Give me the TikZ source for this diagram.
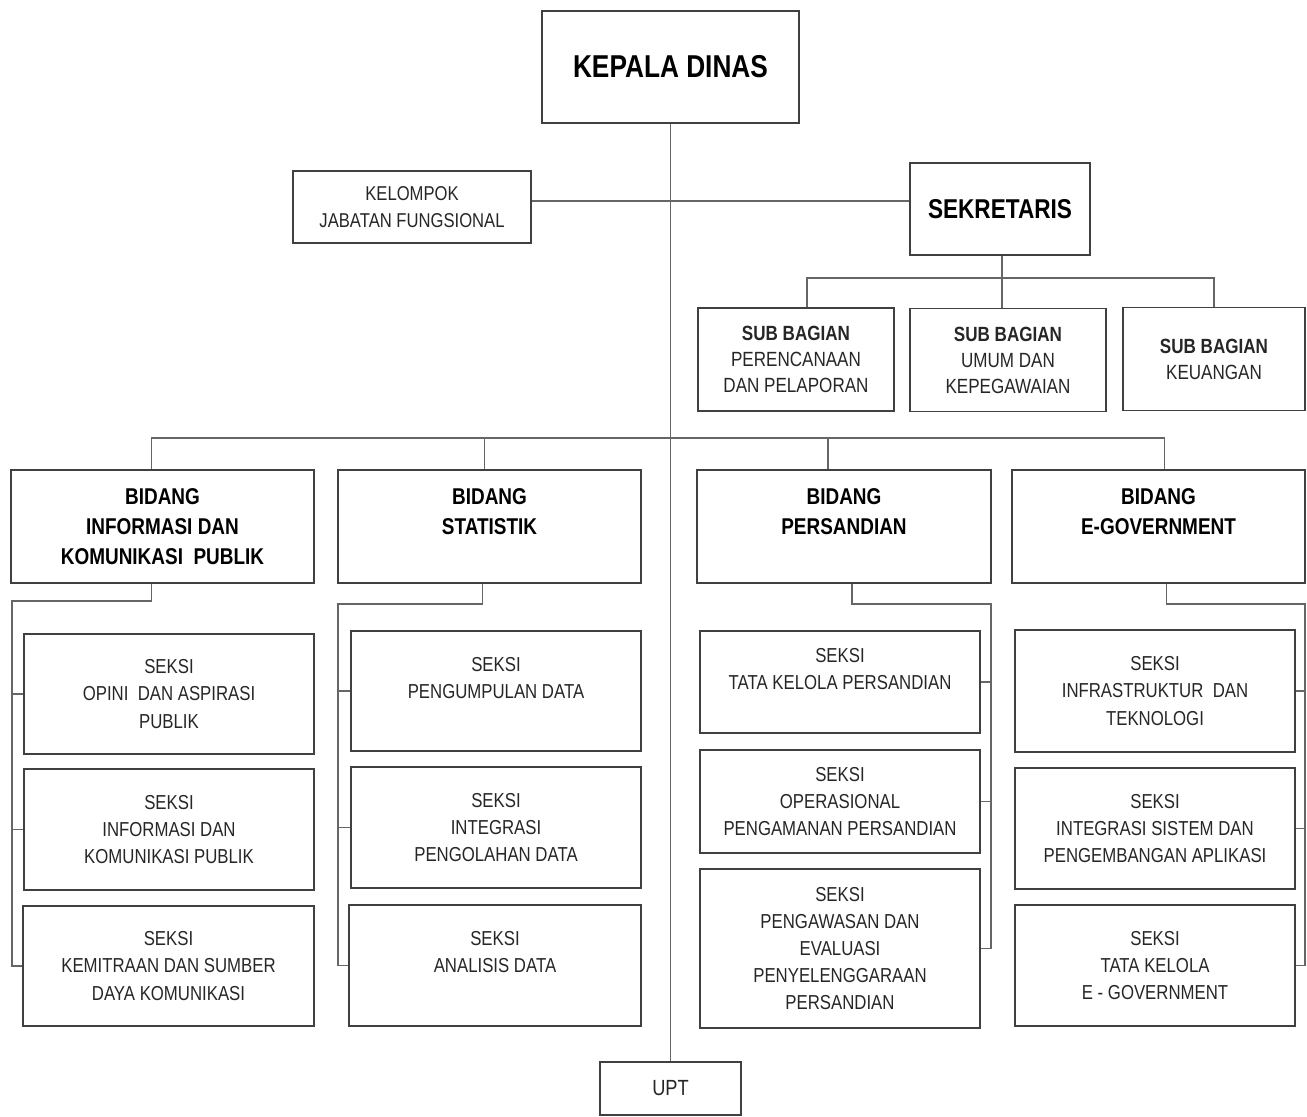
\documentclass[tikz,border=0pt]{standalone}
\usepackage{fontspec}
\setmainfont{Liberation Sans}[FakeStretch=0.83]
\usepackage{tikz}
\usetikzlibrary{positioning, calc}

\begin{document}
\begin{tikzpicture}[
    x=0.02cm, y=-0.02cm,
    unit/.style={
        draw=black!75, line width=0.9pt, inner sep=0pt, align=center,
        text=black!85, font=\fontsize{11.5}{15.4}\selectfont
    },
    head/.style={
        unit, text=black, font=\fontsize{#1}{#1}\selectfont\bfseries
    },
    bidang/.style={
        unit, text=black, minimum height=2.26cm,
        font=\fontsize{13}{17}\selectfont\bfseries
    },
    subbag/.style={
        unit, minimum height=2.06cm, font=\fontsize{11.7}{14.8}\selectfont
    },
    seksi/.style={unit, minimum width=#1},
    link/.style={draw=black!60, line width=0.8pt}
]

\useasboundingbox (0,0) rectangle (1307,1116);

% Top level
\node[head=18, minimum width=5.14cm, minimum height=2.24cm] (kadis) at (670.5,67) {KEPALA DINAS};
\node[unit, minimum width=4.76cm, minimum height=1.44cm,
      font=\fontsize{11.4}{15.4}\selectfont] (jf) at (412,207) {KELOMPOK\\JABATAN FUNGSIONAL};
\node[head=15.5, minimum width=3.6cm, minimum height=1.84cm] (sek) at (1000,209) {\raisebox{-0.25em}{SEKRETARIS}};
\node[unit, minimum width=2.82cm, minimum height=1.06cm,
      font=\fontsize{12.5}{15}\selectfont] (upt) at (670.5,1088.5) {UPT};

% Sub bagian
\node[subbag, minimum width=3.92cm] (sb1) at (796,359.5) {\textbf{SUB BAGIAN}\\PERENCANAAN\\DAN PELAPORAN};
\node[subbag, minimum width=3.92cm] (sb2) at (1008,360) {\textbf{SUB BAGIAN}\\UMUM DAN\\KEPEGAWAIAN};
\node[subbag, minimum width=3.64cm] (sb3) at (1214,359) {\textbf{SUB BAGIAN}\\KEUANGAN};

% Bidang
\node[bidang, minimum width=6.06cm] (b1) at (162.5,526.5) {BIDANG\\INFORMASI DAN\\KOMUNIKASI~ PUBLIK};
\node[bidang, minimum width=6.06cm] (b2) at (489.5,526.5) {BIDANG\\STATISTIK\\~};
\node[bidang, minimum width=5.88cm] (b3) at (844,526.5) {BIDANG\\PERSANDIAN\\~};
\node[bidang, minimum width=5.86cm] (b4) at (1158.5,526.5) {BIDANG\\E-GOVERNMENT\\~};

% Seksi bidang informasi
\node[seksi=5.8cm, minimum height=2.4cm] (s11) at (169,694) {SEKSI\\OPINI~ DAN ASPIRASI\\PUBLIK};
\node[seksi=5.8cm, minimum height=2.42cm] (s12) at (169,829.5) {SEKSI\\INFORMASI DAN\\KOMUNIKASI PUBLIK};
\node[seksi=5.82cm, minimum height=2.4cm] (s13) at (168.5,966) {SEKSI\\KEMITRAAN DAN SUMBER\\DAYA KOMUNIKASI};

% Seksi bidang statistik
\node[seksi=5.8cm, minimum height=2.4cm] (s21) at (496,691) {SEKSI\\PENGUMPULAN DATA\\~};
\node[seksi=5.8cm, minimum height=2.42cm] (s22) at (496,827.5) {SEKSI\\INTEGRASI\\PENGOLAHAN DATA};
\node[seksi=5.84cm, minimum height=2.42cm] (s23) at (495,965.5) {SEKSI\\ANALISIS DATA\\~};

% Seksi bidang persandian
\node[seksi=5.6cm, minimum height=2.04cm] (s31) at (840,682) {SEKSI\\TATA KELOLA PERSANDIAN\\~};
\node[seksi=5.6cm, minimum height=2.06cm] (s32) at (840,801.5) {SEKSI\\OPERASIONAL\\PENGAMANAN PERSANDIAN};
\node[seksi=5.6cm, minimum height=3.18cm] (s33) at (840,948.5) {SEKSI\\PENGAWASAN DAN\\EVALUASI\\PENYELENGGARAAN\\PERSANDIAN};

% Seksi bidang e-government
\node[seksi=5.6cm, minimum height=2.44cm] (s41) at (1155,691) {SEKSI\\INFRASTRUKTUR~ DAN\\TEKNOLOGI};
\node[seksi=5.6cm, minimum height=2.42cm] (s42) at (1155,828.5) {SEKSI\\INTEGRASI SISTEM DAN\\PENGEMBANGAN APLIKASI};
\node[seksi=5.6cm, minimum height=2.42cm] (s43) at (1155,965.5) {SEKSI\\TATA KELOLA\\E - GOVERNMENT};

% Junctions
\coordinate (sbus) at (1002,278);
\coordinate (bbus) at (670.5,438);
\coordinate (c1) at (12,601);
\coordinate (c2) at (338,604);
\coordinate (c3) at (991,604);
\coordinate (c4) at (1305,604);

% Main lines
\draw[link] (kadis) -- (upt);
\draw[link] ($(jf.east)+(0,-6)$) -- ($(jf.east -| sek.west)+(0,-6)$);
\draw[link] (sek.south -| sbus) -- (sbus);
\draw[link] ($(sb1.north)+(11,0)$) |- (sbus) -| (sb3.north);
\draw[link] (sb2.north -| sbus) -- (sbus);
\draw[link] ($(b1.north)+(-11,0)$) |- (bbus) -| ($(b4.north)+(6,0)$);
\draw[link] ($(b2.north)+(-5,0)$) -- ($(b2.north |- bbus)+(-5,0)$);
\draw[link] ($(b3.north)+(-16,0)$) -- ($(b3.north |- bbus)+(-16,0)$);

% Seksi lines
\draw[link] ($(b1.south)+(-11,0)$) |- (c1) |- (s13.west);
\draw[link] ($(b2.south)+(-7,0)$) |- (c2) |- (s23.west);
\draw[link] ($(b3.south)+(8,0)$) |- (c3) |- (s33.east);
\draw[link] ($(b4.south)+(8,0)$) |- (c4) |- (s43.east);
\foreach \s/\c/\side in {s11/c1/west, s12/c1/west, s21/c2/west, s22/c2/west,
                         s31/c3/east, s32/c3/east, s41/c4/east, s42/c4/east}
    \draw[link] (\s.\side) -- (\s.\side -| \c);

\end{tikzpicture}
\end{document}
